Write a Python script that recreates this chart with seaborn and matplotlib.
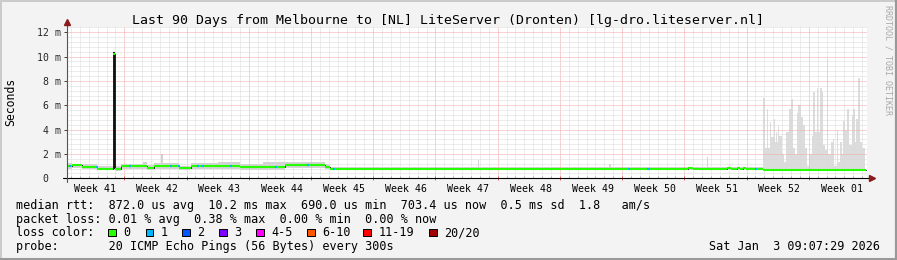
import numpy as np
import matplotlib
matplotlib.use("Agg")
import matplotlib.pyplot as plt
import matplotlib.transforms as mtransforms
from matplotlib.patches import Rectangle
from matplotlib.lines import Line2D
import seaborn as sns

# ---------------- data ----------------
TITLE = "Last 90 Days from Melbourne to [NL] LiteServer (Dronten) [lg-dro.liteserver.nl]"
week_labels = ["Week 41", "Week 42", "Week 43", "Week 44", "Week 45", "Week 46", "Week 47",
               "Week 48", "Week 49", "Week 50", "Week 51", "Week 52", "Week 01"]
y_ticks = [0, 2, 4, 6, 8, 10, 12]
y_labels = [" 0", " 2 m", " 4 m", " 6 m", " 8 m", "10 m", "12 m"]

# median rtt (ms), step changes at day offsets from graph start
median_days = [0.0, 0.56, 1.69, 3.37, 5.17, 5.45, 6.07, 9.0, 9.79, 12.6, 13.95, 19.46, 24.5,
               29.0, 29.6, 69.9, 70.4, 74.2, 74.7, 75.4, 75.7, 76.05, 76.4, 78.3, 89.9]
median_ms = [1.0, 1.07, 0.93, 0.80, 10.2, 0.75, 1.0, 0.85, 1.03, 0.85, 1.03, 0.9, 1.1,
             0.93, 0.80, 0.88, 0.80, 0.86, 0.80, 0.87, 0.80, 0.88, 0.80, 0.70, 0.70]

# days where 1 of 20 pings was lost
loss1_days = [0.22, 3.26, 6.97, 11.6, 12.5, 14.6, 15.2, 18.3, 23.4, 27.0, 29.9, 63.1, 65.3, 77.4]

# smoke (spread of pings), calm period
smoke_days = [0.0, 0.56, 1.69, 3.37, 5.17, 5.51, 6.07, 8.5, 9.0, 9.79, 10.6, 10.75, 12.6,
              13.95, 17.0, 19.46, 22.0, 24.5, 29.0, 29.6, 46.2, 46.35, 61.0, 61.15, 72.0,
              72.12, 78.3]
smoke_lo = [0.78, 0.85, 0.75, 0.65, 0.65, 0.6, 0.8, 0.8, 0.7, 0.8, 0.8, 0.8, 0.7,
            0.8, 0.8, 0.7, 0.7, 0.85, 0.75, 0.72, 0.72, 0.72, 0.72, 0.72, 0.72,
            0.72, 0.72]
smoke_hi = [1.25, 1.2, 1.15, 1.05, 1.0, 1.0, 1.2, 1.3, 1.1, 1.25, 2.0, 1.25, 1.05,
            1.25, 1.3, 1.15, 1.3, 1.3, 1.15, 0.92, 1.5, 0.92, 1.2, 0.92, 1.75,
            0.92, 0.92]

# smoke during the noisy last two weeks
storm_days = [78.30, 78.52, 78.75, 78.86, 79.09, 79.20, 79.54, 79.65, 79.76, 79.88, 79.99,
              80.10, 80.44, 80.66, 80.89, 81.22, 81.45, 81.67, 81.90, 82.12, 82.23, 82.57,
              82.80, 83.02, 83.25, 83.47, 83.81, 83.92, 84.15, 84.37, 84.48, 84.71, 84.94,
              85.05, 85.27, 85.50, 85.61, 85.95, 86.17, 86.29, 86.62, 86.74, 86.96, 87.19,
              87.30, 87.52, 87.75, 87.97, 88.31, 88.42, 88.65, 88.76, 88.98, 89.21, 89.43,
              89.77]
storm_hi = [6.6, 2.5, 5.7, 2.5, 4.6, 3.4, 4.9, 3.0, 3.8, 3.0, 4.3,
            3.5, 2.0, 1.3, 3.8, 5.7, 6.5, 2.5, 2.0, 5.4, 6.0, 5.0,
            4.4, 2.5, 1.0, 2.0, 3.5, 7.1, 3.8, 7.4, 3.8, 7.4, 7.1,
            2.7, 2.3, 9.8, 2.0, 3.0, 3.2, 1.0, 4.0, 1.3, 3.0, 2.0,
            4.7, 4.0, 5.7, 2.7, 5.2, 5.7, 3.0, 4.9, 8.2, 3.0, 2.5,
            2.5]
storm_lo = [0.62] * len(storm_days)

# dense smoke at the latency spike
spike_days = [5.17, 5.45]
spike_lo = [0.8, 0.8]
spike_hi = [10.4, 10.4]

legend_rows = [
    "median rtt:  872.0 us avg  10.2 ms max  690.0 us min  703.4 us now  0.5 ms sd  1.8   am/s",
    "packet loss: 0.01 % avg  0.38 % max  0.00 % min  0.00 % now",
    "loss color:",
    "probe:       20 ICMP Echo Pings (56 Bytes) every 300s",
]
loss_labels = ["0", "1", "2", "3", "4-5", "6-10", "11-19", "20/20"]
loss_colors = ["#26ff00", "#00b8ff", "#0059ff", "#7e00ff", "#ff00ff", "#ff5500", "#ff0000", "#a10000"]
date_text = "Sat Jan  3 09:07:29 2026"
y_title = "Seconds"
watermark = "RRDTOOL / TOBI OETIKER"

# ---------------- style ----------------
sns.set_theme(style="white")
plt.rcParams['font.family'] = ['DejaVu Sans Mono', 'DejaVu Sans']
plt.rcParams['text.color'] = 'black'

W, H = 897, 260
def fx(x):
    return x / W
def fy(y):
    return 1 - y / H

BG = '#f3f3f3'
fig = plt.figure(figsize=(W / 100, H / 100), dpi=100, facecolor=BG)
ax_left, ax_right, ax_top, ax_bot = 67, 867, 27, 178.3
ax = fig.add_axes([fx(ax_left), fy(ax_bot), (ax_right - ax_left) / W, (ax_bot - ax_top) / H])
ax.set_facecolor('white')
ax.set_xlim(0, 90)
ax.set_ylim(0, 12.43)
for s in ax.spines.values():
    s.set_visible(False)

# smoke
ax.fill_between(smoke_days, smoke_lo, smoke_hi, step='post', color='#d2d2d2', lw=0, zorder=1)
ax.fill_between(storm_days, storm_lo, storm_hi, step='post', color='#dcdcdc', lw=0, zorder=1)
ax.fill_between(spike_days, spike_lo, spike_hi, step='post', color='#111111', lw=0, zorder=2.7)

# grid
week_bounds = 6.45 + 7 * np.arange(12)
day_lines = 0.45 + np.arange(90)
ax.set_xticks(week_bounds)
ax.set_xticks(day_lines, minor=True)
ax.set_xticklabels([])
ax.set_yticks(y_ticks)
ax.set_yticks(np.arange(0, 12.43, 0.4), minor=True)
ax.set_yticklabels(y_labels, ha='left', fontsize=7.1)
ax.set_axisbelow(False)
ax.grid(which='major', color='#f3a6a6', lw=0.72, linestyle=(0, (1, 1)), zorder=2)
ax.grid(which='minor', color='#dadada', lw=0.72, linestyle=(0, (1, 1)), zorder=2)
ax.tick_params(axis='y', which='major', length=2.2, width=0.72, color='#444444',
               direction='out', pad=19.6, left=True)
ax.tick_params(axis='y', which='minor', length=0)
ax.tick_params(axis='x', which='major', length=3, width=0.72, color='#e06060',
               direction='inout', bottom=True)
ax.tick_params(axis='x', which='minor', length=1.5, width=0.72, color='#aaaaaa',
               direction='in', bottom=True)

# median line: thin dark step line underneath, coloured horizontal segments on top
sns.lineplot(x=median_days, y=median_ms, drawstyle='steps-post', color='#222222',
             lw=0.7, ax=ax, zorder=3, estimator=None, sort=False)
md = np.array(median_days)
mm = np.array(median_ms)
ax.hlines(mm[:-1], md[:-1], md[1:], color=loss_colors[0], lw=1.5, zorder=4)
for d in loss1_days:
    i = np.searchsorted(md, d, side='right') - 1
    ax.hlines(mm[i], d, d + 0.25, color=loss_colors[1], lw=1.5, zorder=5)

# axis lines + arrows
ax.plot([-4 / 800, 1 + 2 / 800], [0, 0], transform=ax.transAxes, color='black', lw=0.8,
        clip_on=False, zorder=6)
ax.plot([1 + 4.5 / 800], [0], transform=ax.transAxes, marker='>', ms=4.2, color='#8b1a1a',
        mec='#8b1a1a', clip_on=False, zorder=6)
ax.plot([0, 0], [-4 / 151.3, 1 + 3 / 151.3], transform=ax.transAxes, color='#555555', lw=0.8,
        clip_on=False, zorder=6)
ax.plot([0], [1 + 5 / 151.3], transform=ax.transAxes, marker='^', ms=4.2, color='#8b1a1a',
        mec='#8b1a1a', clip_on=False, zorder=6)

# week labels centred in each week
trans = mtransforms.blended_transform_factory(ax.transData, ax.transAxes)
label_pos = week_bounds[0] - 3.3 + 7 * np.arange(len(week_labels))
for d, lab in zip(label_pos, week_labels):
    ax.text(d, -(191.5 - ax_bot) / 151.3, lab, transform=trans, ha='center', va='baseline',
            fontsize=7.1)

# texts
fig.text(fx(447.8), fy(23.7), TITLE, ha='center', va='baseline', fontsize=9.55)
fig.text(fx(11), fy(102), y_title, rotation=90, ha='center', va='center', fontsize=8.3)
fig.text(fx(887.5), fy(60), watermark, rotation=270, ha='center', va='center', fontsize=6,
         color='#a9a9a9')
baselines = [208.5, 222.5, 236.5, 250.3]
for row, b in zip(legend_rows, baselines):
    fig.text(fx(16), fy(b), row, ha='left', va='baseline', fontsize=8.5)
box_x = [108.3, 145.7, 182.3, 219.3, 256.0, 307.0, 363.3, 429.0]
for bx, lab, col in zip(box_x, loss_labels, loss_colors):
    fig.add_artist(Rectangle((fx(bx), fy(236.3)), 7.5 / W, 7.5 / H, transform=fig.transFigure,
                             facecolor=col, edgecolor='black', lw=0.72))
    fig.text(fx(bx + 15), fy(236.5), lab, ha='left', va='baseline', fontsize=8.5)
fig.text(fx(880), fy(250.3), date_text, ha='right', va='baseline', fontsize=8.5)

# 3d frame
fig.add_artist(Line2D([0, 1], [fy(0.7), fy(0.7)], transform=fig.transFigure, color='#cbcbcb', lw=1.44))
fig.add_artist(Line2D([fx(0.7), fx(0.7)], [0, 1], transform=fig.transFigure, color='#cbcbcb', lw=1.44))
fig.add_artist(Line2D([0, 1], [fy(258.8), fy(258.8)], transform=fig.transFigure, color='#999999', lw=2.2))
fig.add_artist(Line2D([fx(896), fx(896)], [0, 1], transform=fig.transFigure, color='#999999', lw=1.6))

fig.savefig('out.png', dpi=100, facecolor=BG)
